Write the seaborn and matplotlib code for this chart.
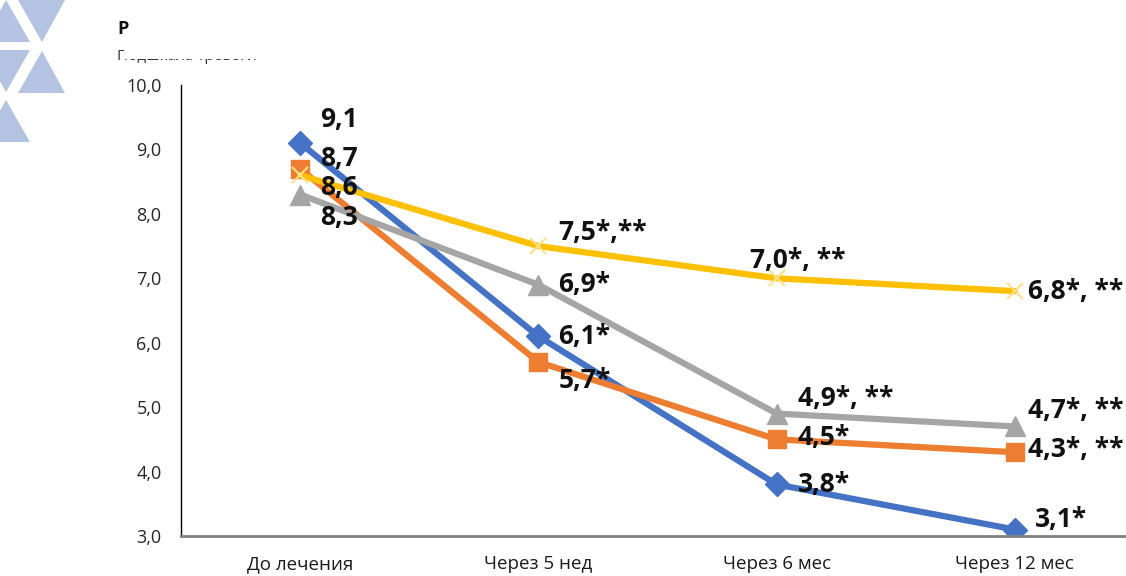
import matplotlib
matplotlib.use("Agg")
import matplotlib.pyplot as plt
from matplotlib.patches import Polygon, Rectangle
import seaborn as sns

# ---------------------------------------------------------------------------
# Data
# ---------------------------------------------------------------------------
periods = ["До лечения", "Через 5 нед", "Через 6 мес", "Через 12 мес"]

blue_vals = [9.1, 6.1, 3.8, 3.1]
orange_vals = [8.7, 5.7, 4.5, 4.3]
gray_vals = [8.3, 6.9, 4.9, 4.7]
yellow_vals = [8.6, 7.5, 7.0, 6.8]

blue_labels = ["9,1", "6,1*", "3,8*", "3,1*"]
orange_labels = ["8,7", "5,7*", "4,5*", "4,3*, **"]
gray_labels = ["8,3", "6,9*", "4,9*, **", "4,7*, **"]
yellow_labels = ["8,6", "7,5*,**", "7,0*, **", "6,8*, **"]

y_ticks = [3.0, 4.0, 5.0, 6.0, 7.0, 8.0, 9.0, 10.0]

# label offsets in pixels (dx, dy) relative to each point
blue_off = [(20, 23), (20, 0), (21, 0), (20, 10)]
orange_off = [(20, 10), (20, -18), (21, 2), (13, 3)]
gray_off = [(20, -23), (20, 0), (21, 15), (13, 16)]
yellow_off = [(20, -12), (20, 14), (-27, 18), (13, 0)]

FONT = ["Open Sans", "DejaVu Sans"]

sns.set_theme(style="white")
plt.rcParams["font.family"] = FONT

W, H = 1126, 576
fig = plt.figure(figsize=(W / 100, H / 100), dpi=100)
ax = fig.add_axes([181 / W, 1 - 536 / H, 953 / W, (536 - 85) / H])

series = [
    (blue_vals, blue_labels, blue_off, "#4472C4", "D", 12, 1),
    (orange_vals, orange_labels, orange_off, "#ED7D31", "s", 13, 1),
    (gray_vals, gray_labels, gray_off, "#A5A5A5", "^", 14, 1),
    (yellow_vals, yellow_labels, yellow_off, "#FFC000", "x", 12, 1.5),
]

for vals, labels, offs, color, marker, ms, mew in series:
    mec = color if marker != "x" else "#FFE08A"
    sns.lineplot(x=periods, y=vals, ax=ax, color=color, linewidth=4.5,
                 marker=marker, markersize=ms, markeredgecolor=mec,
                 markeredgewidth=mew, sort=False, legend=False)
    for i, (v, lab, (dx, dy)) in enumerate(zip(vals, labels, offs)):
        ax.annotate(lab, (i, v), xytext=(dx * 0.72, dy * 0.72),
                    textcoords="offset points", ha="left", va="center",
                    fontsize=19, fontweight="bold", color="#111111",
                    annotation_clip=False)

ax.set_xlim(-0.5, 3.5)
ax.set_ylim(3.0, 10.0)
ax.set_yticks(y_ticks)
ax.set_yticklabels([f"{t:.1f}".replace(".", ",") for t in y_ticks])
ax.set_xlabel("")
ax.set_ylabel("")
ax.tick_params(axis="y", labelsize=13, colors="#262626", pad=14, length=0)
ax.tick_params(axis="x", labelsize=13.5, colors="#1a1a1a", pad=14, length=0)
ax.grid(False)

for side in ["top", "right"]:
    ax.spines[side].set_visible(False)
ax.spines["left"].set_color("#000000")
ax.spines["left"].set_linewidth(1.0)
ax.spines["bottom"].set_color("#808080")
ax.spines["bottom"].set_linewidth(2.0)

# decorative triangles in the top-left corner
tri_color = "#B4C3E1"
tris = [
    [(-18, 42), (30, 42), (6, 0)],
    [(18, 0), (65, 0), (42, 42)],
    [(-18, 50), (30, 50), (6, 92)],
    [(18, 93), (65, 93), (42, 51)],
    [(-18, 142), (30, 142), (6, 100)],
]
for pts in tris:
    fig.add_artist(Polygon([(x / W, 1 - y / H) for x, y in pts],
                           closed=True, facecolor=tri_color, edgecolor="none",
                           transform=fig.transFigure))

# clipped title remnants
fig.text(117 / W, 1 - 29 / H, "Р", fontsize=13, fontweight="bold",
         color="#111111", va="center", ha="left")
fig.text(117 / W, 1 - 56 / H, "Подшкала тревоги", fontsize=11,
         color="#333333", va="center", ha="left")
fig.add_artist(Rectangle((124 / W, 1 - 59 / H), 180 / W, 16 / H,
                         facecolor="white", edgecolor="none",
                         transform=fig.transFigure, zorder=10))

fig.savefig("out.png", dpi=100)
